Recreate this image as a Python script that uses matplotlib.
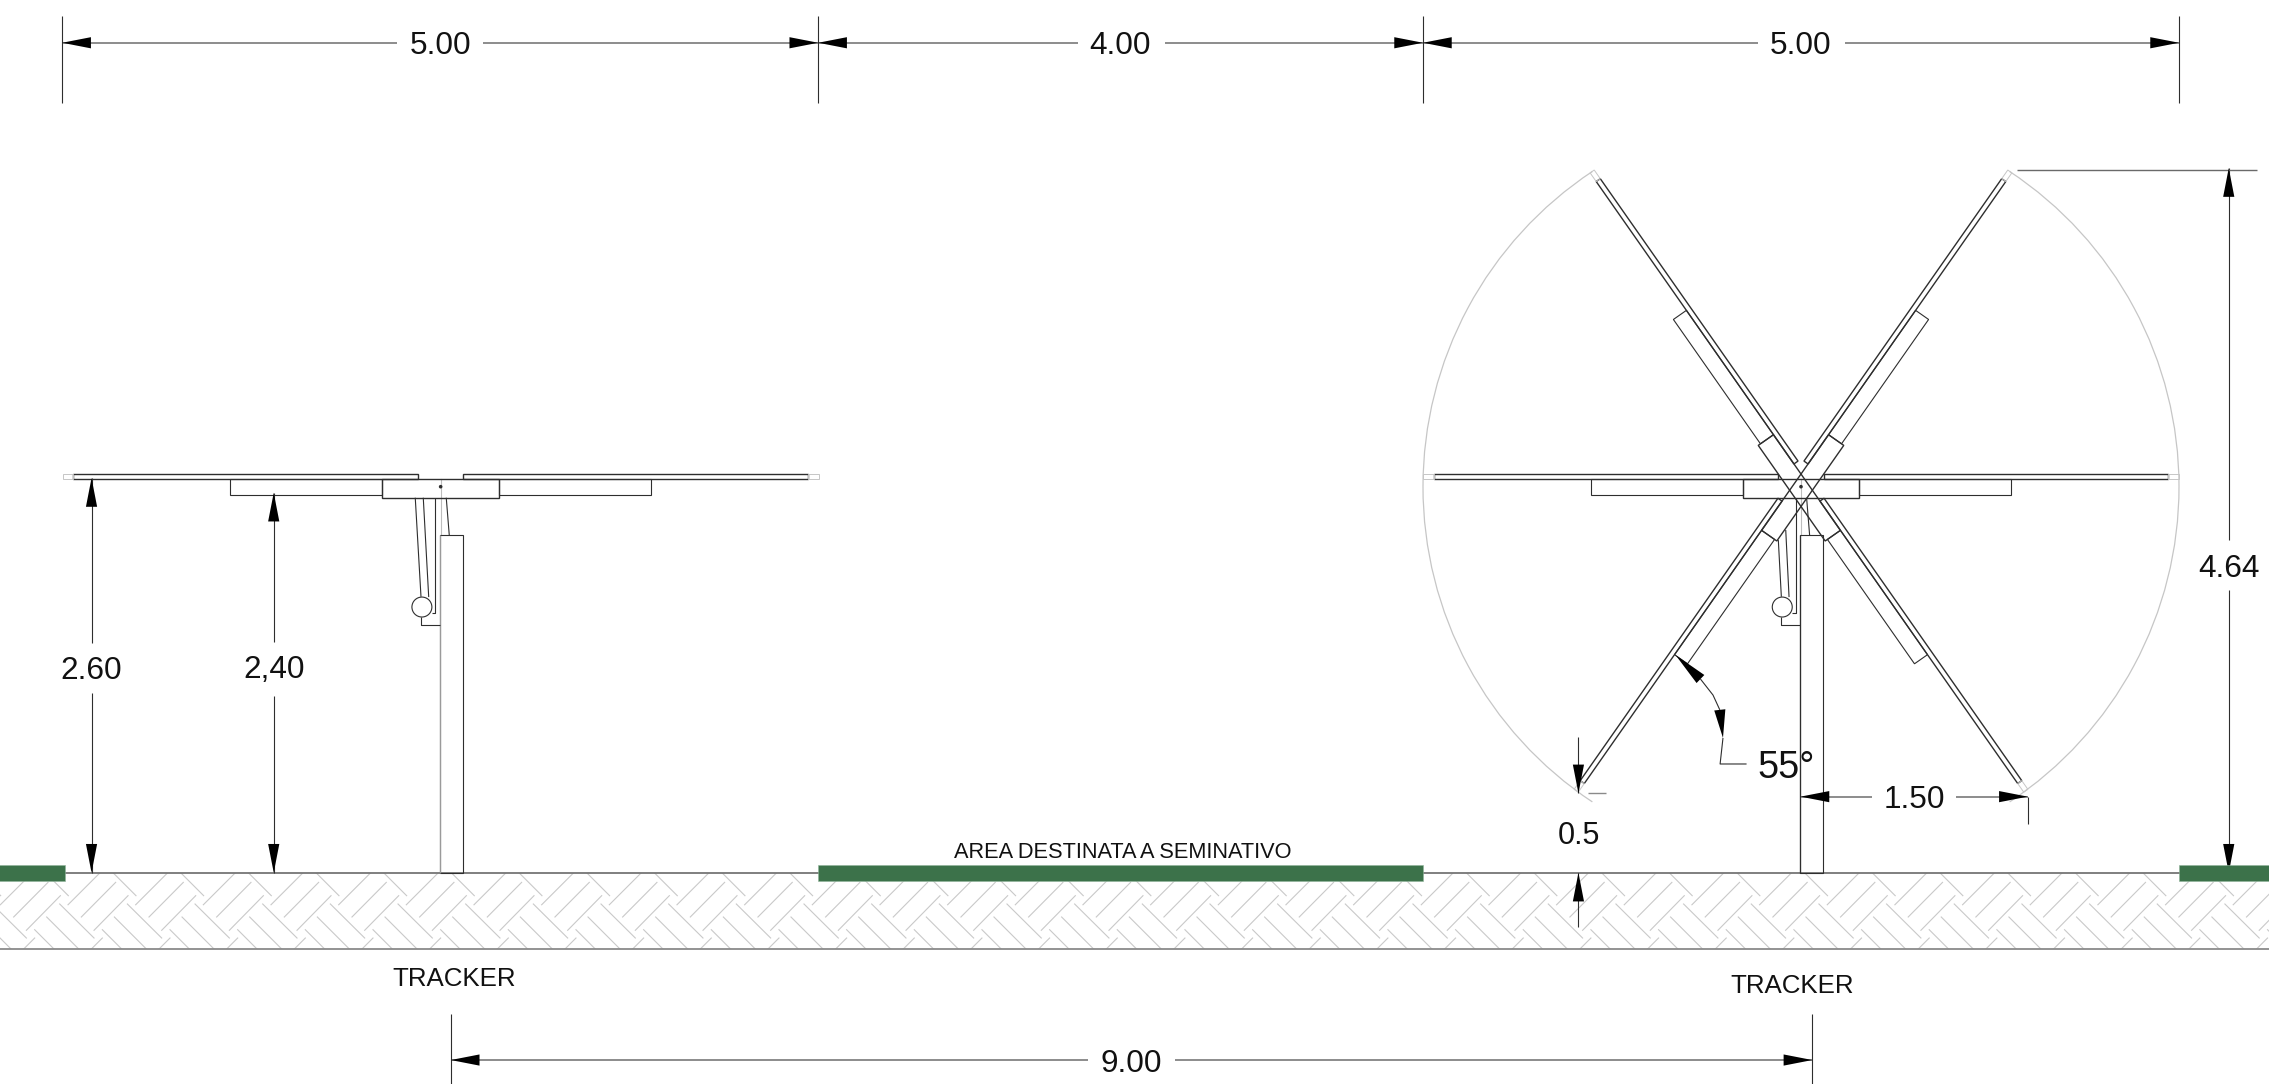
import numpy as np
import matplotlib
matplotlib.use('Agg')
import matplotlib.pyplot as plt
from matplotlib.patches import Polygon, Rectangle, Circle, Arc

plt.rcParams['font.family'] = ['Liberation Sans', 'DejaVu Sans']

# all measures are metres, x from the first dimension tick, y from ground
M_PX = 151.2
X0_PX = 62.2
GROUND_PX = 872.7

LINE = '#2e2e2e'
DIM = '#6e6e6e'
HATCH = '#c9c9c9'
ARC_GREY = '#c6c6c6'
GREEN = '#3c724a'

# tracker, local to the pivot
pivot_y = 2.553
tracker_x = [2.503, 11.50]
tilts = [0, 55, -55]
panel_y = [0.048, 0.081]
panel_x = [0.15, 2.43]
panel_tip = 2.50
box_x = 0.386
box_y = [-0.075, 0.048]
purlin_x = 1.39
purlin_y = -0.057
arc_half = 56.5

# post and actuator
post_x = -0.005
post_w = 0.152
post_top = 2.232
box_bottom = 2.48
act_a = [(-0.168, box_bottom), (-0.130, 1.825)]
act_b = [(-0.115, box_bottom), (-0.079, 1.823)]
act_a_right = [(-0.150, 2.20), (-0.130, 1.825)]
act_b_right = [(-0.101, 2.267), (-0.079, 1.823)]
act_c = [(-0.036, box_bottom), (-0.036, 1.718), (-0.06, 1.718)]
strut = [(0.037, box_bottom), (0.057, post_top)]
bracket = [(-0.13, 1.69), (-0.13, 1.637), (post_x, 1.637)]
ball = (-0.124, 1.757, 0.066)

# ground
soil_bottom = -0.503
green_strips = [(-0.5, 0.018), (5.0, 9.0), (14.0, 14.6)]
green_y = [-0.055, 0.051]

# herringbone tile (x1, y1, x2, y2)
hatch_period = 0.4475
hatch_start = 4.747
hatch_lines = [
    (0.214, -0.212, 0.439, 0.013),
    (0.302, -0.293, 0.529, -0.064),
    (0.386, -0.381, 0.611, -0.152),
    (0.216, -0.657, 0.441, -0.432),
    (-0.009, 0.073, 0.216, -0.152),
    (0.159, -0.207, 0.386, -0.432),
    (0.073, -0.293, 0.300, -0.520),
    (0.441, -0.377, 0.668, -0.604),
]

# horizontal dimensions: y, tip left, tip right, gap start, gap end, text x, label
h_dims = [
    (5.489, 0.0, 5.0, 2.216, 2.785, 2.503, '5.00'),
    (5.489, 5.0, 9.0, 6.718, 7.294, 6.996, '4.00'),
    (5.489, 9.0, 14.0, 11.216, 11.79, 11.497, '5.00'),
    (-1.239, 2.57, 11.575, 6.784, 7.36, 7.072, '9.00'),
    (0.503, 11.497, 13.0, 11.972, 12.525, 12.247, '1.50'),
]
# vertical dimensions: x, bottom, top, gap low, gap high, text y, label
v_dims = [
    (0.194, 0.0, 2.61, 1.188, 1.519, 1.354, '2.60'),
    (1.399, 0.0, 2.513, 1.171, 1.528, 1.362, '2,40'),
    (14.329, 0.0, 4.66, 1.87, 2.2, 2.035, '4.64'),
]
top_ticks_x = [0.0, 5.0, 9.0, 14.0]
top_ticks_y = [5.09, 5.666]
bottom_ticks_x = [2.57, 11.575]
bottom_ticks_y = [-1.40, -0.935]
ext_464 = [(12.929, 4.648), (14.514, 4.648)]
ext_150 = [(13.0, 0.503), (13.0, 0.322)]

# 0.5 dimension
half_x = 10.028
half_top = [0.895, 0.525]
half_low = [-0.361, 0.0]
half_tick = [(10.094, 0.529), (10.21, 0.529)]
half_text_y = 0.263

# 55 degree leader
angle_curve = [(10.835, 1.281), (10.918, 1.175), (10.963, 1.077)]
angle_tip_a = (10.670, 1.440)
angle_tip_b = (10.984, 0.891)
angle_tail = [(10.984, 0.891), (10.965, 0.719), (11.14, 0.719)]

fig = plt.figure(figsize=(22.69, 10.84), dpi=100)
ax = fig.add_axes([0, 0, 1, 1])
ax.set_xlim(-X0_PX / M_PX, (2269 - X0_PX) / M_PX)
ax.set_ylim((GROUND_PX - 1084) / M_PX, GROUND_PX / M_PX)
ax.axis('off')


def line(pts, color=LINE, lw=0.8, z=3):
    xs = [p[0] for p in pts]
    ys = [p[1] for p in pts]
    ax.plot(xs, ys, color=color, lw=lw, zorder=z, solid_capstyle='butt')


def arrow(tip, base):
    d = np.array(tip) - np.array(base)
    n = np.array([-d[1], d[0]]) / np.hypot(*d) * 0.037
    ax.add_patch(Polygon([tip, np.array(base) + n, np.array(base) - n], closed=True,
                         fc='black', ec='none', zorder=4))


def label(x, y, s, size=22.7, ha='center'):
    ax.text(x, y, s, fontsize=size, ha=ha, va='center_baseline', color='#111111', zorder=6)


def rotated(corners, cx, tilt):
    a = np.radians(tilt)
    out = []
    for x, y in corners:
        out.append((cx + x * np.cos(a) + y * np.sin(a),
                    pivot_y - x * np.sin(a) + y * np.cos(a)))
    return out


def outline(corners, cx, tilt, color=LINE, lw=0.8):
    pts = rotated(corners, cx, tilt)
    ax.add_patch(Polygon(pts, closed=True, fill=False, ec=color, lw=lw, zorder=3))


def draw_tilt(cx, tilt):
    for side in [-1, 1]:
        x1, x2 = side * panel_x[0], side * panel_x[1]
        outline([(x1, panel_y[0]), (x2, panel_y[0]), (x2, panel_y[1]), (x1, panel_y[1])],
                cx, tilt, lw=1.0)
        x3 = side * panel_tip
        outline([(x2, panel_y[0]), (x3, panel_y[0]), (x3, panel_y[1]), (x2, panel_y[1])],
                cx, tilt, color=ARC_GREY, lw=0.7)
        x4 = side * box_x
        x5 = side * purlin_x
        outline([(x4, box_y[1]), (x5, box_y[1]), (x5, purlin_y), (x4, purlin_y)], cx, tilt)
    outline([(-box_x, box_y[0]), (box_x, box_y[0]), (box_x, box_y[1]), (-box_x, box_y[1])],
            cx, tilt, lw=1.0)


def draw_post(cx, left_color, a_pts, b_pts):
    ax.plot([cx, cx], [post_top, pivot_y + panel_y[0]], color='#bdbdbd', lw=0.8, zorder=2)
    ax.add_patch(Rectangle((cx + post_x, 0), post_w, post_top, fill=False, ec=LINE, lw=0.8, zorder=3))
    line([(cx + post_x, 0), (cx + post_x, post_top)], color=left_color, lw=0.9)
    for pts in [a_pts, b_pts, act_c, strut, bracket]:
        line([(cx + x, y) for x, y in pts])
    ax.add_patch(Circle((cx + ball[0], ball[1]), ball[2], fc='white', ec=LINE, lw=0.8, zorder=4))
    ax.add_patch(Circle((cx, pivot_y), 0.012, fc=LINE, ec='none', zorder=4))


# soil
clip = Rectangle((-1, soil_bottom), 17, -soil_bottom, transform=ax.transData)
for n in range(-12, 26):
    off = hatch_start + n * hatch_period
    for x1, y1, x2, y2 in hatch_lines:
        ln, = ax.plot([off + x1, off + x2], [y1, y2], color=HATCH, lw=0.8, zorder=1)
        ln.set_clip_path(clip)
xlim = ax.get_xlim()
line([(xlim[0], 0), (xlim[1], 0)], color='#757575', lw=1.3, z=2)
line([(xlim[0], soil_bottom), (xlim[1], soil_bottom)], color='#8a8a8a', lw=1.3, z=2)

# trackers
draw_tilt(tracker_x[0], 0)
draw_post(tracker_x[0], '#9a9a9a', act_a, act_b)
for t in tilts:
    draw_tilt(tracker_x[1], t)
draw_post(tracker_x[1], LINE, act_a_right, act_b_right)
for a1, a2 in [(-arc_half, arc_half), (180 - arc_half, 180 + arc_half)]:
    ax.add_patch(Arc((tracker_x[1], pivot_y), 5.0, 5.0, theta1=a1, theta2=a2,
                     color=ARC_GREY, lw=0.9, zorder=2))

# dimensions
for y, t1, t2, g1, g2, tx, s in h_dims:
    line([(t1, y), (g1, y)], color=DIM, lw=1.1)
    line([(g2, y), (t2, y)], color=DIM, lw=1.1)
    arrow((t1, y), (t1 + 0.19, y))
    arrow((t2, y), (t2 - 0.19, y))
    label(tx, y, s)
for x, b, t, g1, g2, ty, s in v_dims:
    line([(x, b), (x, g1)])
    line([(x, g2), (x, t)])
    arrow((x, t), (x, t - 0.19))
    arrow((x, b), (x, b + 0.19))
    label(x, ty, s)
for x in top_ticks_x:
    line([(x, top_ticks_y[0]), (x, top_ticks_y[1])])
for x in bottom_ticks_x:
    line([(x, bottom_ticks_y[0]), (x, bottom_ticks_y[1])])
line(ext_464, color='#6a6a6a', lw=1.0)
line(ext_150)

line([(half_x, half_top[0]), (half_x, half_top[1])])
arrow((half_x, half_top[1]), (half_x, half_top[1] + 0.19))
line([(half_x, half_low[0]), (half_x, half_low[1])])
arrow((half_x, half_low[1]), (half_x, half_low[1] - 0.19))
line(half_tick, color='#8a8a8a', lw=1.0)
label(half_x + 0.003, half_text_y + 0.004, '0.5', size=22)

line(angle_curve)
arrow(angle_tip_a, angle_curve[0])
arrow(angle_tip_b, angle_curve[-1])
line(angle_tail)
label(11.21, angle_tail[-1][1], '55°', size=27.2, ha='left')

# green strips go over the arrow tips
for x1, x2 in green_strips:
    ax.add_patch(Rectangle((x1, green_y[0]), x2 - x1, green_y[1] - green_y[0],
                           fc=GREEN, ec='#8fb39a', lw=0.4, zorder=5))

label(2.594, -0.688, 'TRACKER', size=18.6)
label(11.44, -0.73, 'TRACKER', size=18.6)
label(7.016, 0.15, 'AREA DESTINATA A SEMINATIVO', size=15.7)

fig.savefig('out.png', dpi=100, facecolor='white')
